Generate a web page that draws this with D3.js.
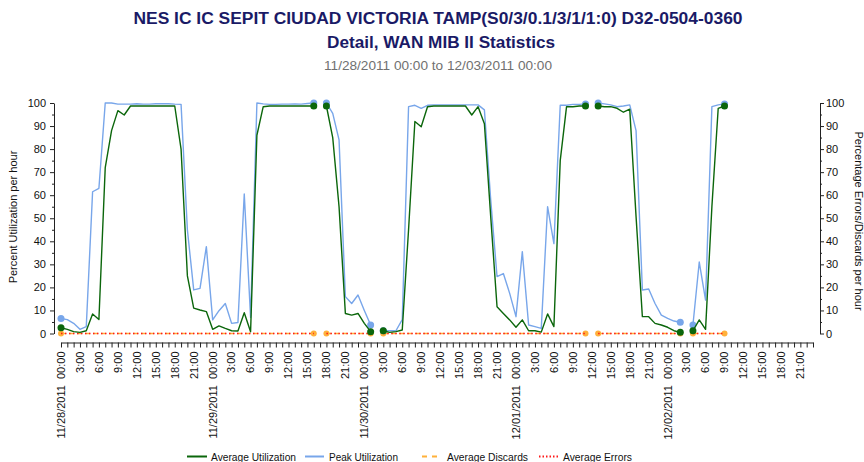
<!DOCTYPE html>
<html>
<head>
<meta charset="utf-8">
<script src="https://cdn.jsdelivr.net/npm/d3@7"></script>
<style>
  body { margin: 0; background: #fff; }
  svg { display: block; font-family: "Liberation Sans", Arial, sans-serif; }
</style>
</head>
<body>
<svg id="chart" width="864" height="462"></svg>
<script>
// ---------------- data (hourly, starting 11/28/2011 00:00) ----------------
const titleLines = ["NES IC IC SEPIT CIUDAD VICTORIA TAMP(S0/3/0.1/3/1/1:0) D32-0504-0360", "Detail, WAN MIB II Statistics"];
const subtitle = "11/28/2011 00:00  to  12/03/2011 00:00";
const dayLabels = ["11/28/2011", "11/29/2011", "11/30/2011", "12/01/2011", "12/02/2011"];
const hourLabels = ["00:00", "3:00", "6:00", "9:00", "12:00", "15:00", "18:00", "21:00"];
const yTicks = [0, 10, 20, 30, 40, 50, 60, 70, 80, 90, 100];
const seriesNames = ["Average Utilization", "Peak Utilization", "Average Discards", "Average Errors"];

const avgUtil = [
  2.5, 1.8, 0.8, 0.5, 1.2, 8.5, 6.1, 72, 88, 96.7, 94.8, 98.7,
  98.7, 98.7, 98.7, 98.7, 98.7, 98.7, 98.7, 80, 25, 11, 10.2, 9.5,
  1.8, 3.3, 2.2, 1.2, 1.1, 9, 0.8, 86, 98.4, 98.7, 98.7, 98.7,
  98.7, 98.7, 98.7, 98.7, 98.7, null, 98.7, 85, 55, 8.7, 8, 8.7,
  4.4, 0.8, null, 1.2, 0.5, 0.8, 1.5, 45, 92, 89.7, 98.4, 98.7,
  98.7, 98.7, 98.7, 98.7, 98.7, 94.8, 98.4, 91, 50.7, 11.6, 8.7, 5.9,
  2.7, 5.9, 1.2, 1.2, 0.6, 8.5, 3, 75, 98.4, 98.4, 98.7, 98.7,
  null, 98.7, 98.4, 98.4, 97.7, 96, 97.3, 50.7, 7.3, 7.3, 4.4, 3.7,
  2.7, 1.2, 0.5, null, 1.2, 5.9, 1.8, 55, 97.7, 98.7, null, null,
  null, null, null, null, null, null, null, null, null, null, null, null
];
const peakUtil = [
  6.5, 6, 4.4, 1.8, 3, 61.5, 63, 100, 100, 99.5, 99.5, 99.5,
  99.7, 99.5, 99.5, 99.7, 99.7, 99.7, 99.5, 99.4, 45, 18.9, 19.6, 37.7,
  5.9, 9.9, 13, 4.4, 4.8, 60.5, 7, 100, 99.6, 99.4, 99.4, 99.5,
  99.5, 99.6, 99.5, 99.8, 100, null, 100, 95.5, 84, 16, 13, 16.7,
  10, 3.7, null, 1.2, 1.2, 1.2, 6, 98.4, 99, 97.7, 99, 99.2,
  99.2, 99.2, 99.2, 99.2, 99.2, 99.2, 99.2, 97, 58, 24.7, 26, 17.4,
  7.3, 35.5, 3.7, 3, 2.2, 55, 39, 99, 99, 99.4, 99.4, 99.6,
  null, 100, 99.6, 99.2, 98.4, 98.7, 99.2, 88, 18.9, 19.3, 13, 8,
  6.6, 5.4, 4.9, null, 3.7, 31, 14.5, 98.4, 99.2, 99.6, null, null,
  null, null, null, null, null, null, null, null, null, null, null, null
];
const avgDiscards = [
  0, 0, 0, 0, 0, 0, 0, 0, 0, 0, 0, 0,
  0, 0, 0, 0, 0, 0, 0, 0, 0, 0, 0, 0,
  0, 0, 0, 0, 0, 0, 0, 0, 0, 0, 0, 0,
  0, 0, 0, 0, 0, null, 0, 0, 0, 0, 0, 0,
  0, 0, null, 0, 0, 0, 0, 0, 0, 0, 0, 0,
  0, 0, 0, 0, 0, 0, 0, 0, 0, 0, 0, 0,
  0, 0, 0, 0, 0, 0, 0, 0, 0, 0, 0, 0,
  null, 0, 0, 0, 0, 0, 0, 0, 0, 0, 0, 0,
  0, 0, 0, null, 0, 0, 0, 0, 0, 0, null, null,
  null, null, null, null, null, null, null, null, null, null, null, null
];
const avgErrors = [
  0, 0, 0, 0, 0, 0, 0, 0, 0, 0, 0, 0,
  0, 0, 0, 0, 0, 0, 0, 0, 0, 0, 0, 0,
  0, 0, 0, 0, 0, 0, 0, 0, 0, 0, 0, 0,
  0, 0, 0, 0, 0, null, 0, 0, 0, 0, 0, 0,
  0, 0, null, 0, 0, 0, 0, 0, 0, 0, 0, 0,
  0, 0, 0, 0, 0, 0, 0, 0, 0, 0, 0, 0,
  0, 0, 0, 0, 0, 0, 0, 0, 0, 0, 0, 0,
  null, 0, 0, 0, 0, 0, 0, 0, 0, 0, 0, 0,
  0, 0, 0, null, 0, 0, 0, 0, 0, 0, null, null,
  null, null, null, null, null, null, null, null, null, null, null, null
];

// ---------------- layout ----------------
const svg = d3.select("#chart");
const xLeft = 61, xRight = 813, yTop = 103, yBottom = 333.5;
const leftAxisX = 54, rightAxisX = 820, xAxisY = 342.5;

const hours = d3.range(avgUtil.length);
const x = d3.scaleLinear().domain([0, 119]).range([xLeft, xRight]);
const y = d3.scaleLinear().domain([0, 100]).range([yBottom, yTop]);
const y2 = d3.scaleLinear().domain([0, 100]).range([yBottom, yTop]);

// ---------------- titles ----------------
function fitText(sel, w) {
  sel.attr("textLength", w).attr("lengthAdjust", "spacingAndGlyphs");
}
svg.append("text").attr("x", 438).attr("y", 24).attr("text-anchor", "middle")
  .attr("font-size", 16).attr("font-weight", "bold").attr("fill", "#1a1a66")
  .text(titleLines[0]).call(fitText, 609);
svg.append("text").attr("x", 441).attr("y", 48).attr("text-anchor", "middle")
  .attr("font-size", 16).attr("font-weight", "bold").attr("fill", "#1a1a66")
  .text(titleLines[1]).call(fitText, 228);
svg.append("text").attr("x", 438).attr("y", 70).attr("text-anchor", "middle")
  .attr("font-size", 12).attr("fill", "#707070")
  .text(subtitle).call(fitText, 228);

// ---------------- axes ----------------
const axisColor = "#222";
function styleAxis(g) {
  g.selectAll("path, line").attr("stroke", axisColor);
  g.selectAll("text").attr("fill", "#111").attr("font-size", 11)
    .attr("font-family", "'Liberation Sans', Arial, sans-serif");
}
const minorTicks = d3.range(5, 100, 10);

// left
const gL = svg.append("g").attr("transform", `translate(${leftAxisX},0)`);
gL.call(d3.axisLeft(y).tickValues(yTicks).tickSize(4).tickSizeOuter(0).tickPadding(4));
gL.append("g").call(d3.axisLeft(y).tickValues(minorTicks).tickSize(2).tickSizeOuter(0).tickFormat(""))
  .select(".domain").remove();
gL.call(styleAxis);

// right
const gR = svg.append("g").attr("transform", `translate(${rightAxisX},0)`);
gR.call(d3.axisRight(y2).tickValues(yTicks).tickSize(4).tickSizeOuter(0).tickPadding(2));
gR.append("g").call(d3.axisRight(y2).tickValues(minorTicks).tickSize(2).tickSizeOuter(0).tickFormat(""))
  .select(".domain").remove();
gR.call(styleAxis);

// bottom
const gX = svg.append("g").attr("transform", `translate(0,${xAxisY})`);
gX.call(d3.axisBottom(x).tickValues(hours).tickSize(5).tickSizeOuter(0).tickFormat(""));
gX.call(styleAxis);
const labelHours = hours.filter(h => h % 3 === 0);
gX.selectAll("text.xl").data(labelHours).join("text")
  .attr("class", "xl")
  .attr("transform", h => `translate(${x(h)},9) rotate(-90)`)
  .attr("text-anchor", "end").attr("dy", "0.35em")
  .attr("font-size", 11).attr("fill", "#111")
  .attr("xml:space", "preserve")
  .text(h => {
    const lab = hourLabels[(h % 24) / 3];
    return h % 24 === 0 ? dayLabels[h / 24] + "  " + lab : lab;
  });

// axis titles
svg.append("text").attr("transform", "translate(17,217) rotate(-90)")
  .attr("text-anchor", "middle").attr("font-size", 11).attr("fill", "#111")
  .text("Percent  Utilization per hour");
svg.append("text").attr("transform", "translate(855,221) rotate(90)")
  .attr("text-anchor", "middle").attr("font-size", 11).attr("fill", "#111")
  .text("Percentage  Errors/Discards per hour");

// ---------------- series ----------------
const series = [
  { name: seriesNames[2], values: avgDiscards, color: "#ffb13b", width: 1.5, dash: "5,3", scale: y2, r: 3 },
  { name: seriesNames[3], values: avgErrors, color: "#ff1a1a", width: 1.5, dash: "1.5,2.5", scale: y2, r: 0 },
  { name: seriesNames[1], values: peakUtil, color: "#78a6ea", width: 1.4, dash: null, scale: y, r: 3.5 },
  { name: seriesNames[0], values: avgUtil, color: "#0b660b", width: 1.4, dash: null, scale: y, r: 3.5 }
];

series.forEach(s => {
  const line = d3.line()
    .defined(h => s.values[h] !== null)
    .x(h => x(h)).y(h => s.scale(s.values[h]));
  svg.append("path").datum(hours)
    .attr("d", line).attr("fill", "none")
    .attr("stroke", s.color).attr("stroke-width", s.width)
    .attr("stroke-dasharray", s.dash).attr("stroke-linejoin", "round");
  if (s.r > 0) {
    const ends = hours.filter(h => s.values[h] !== null &&
      (h === 0 || s.values[h - 1] === null || h === s.values.length - 1 || s.values[h + 1] === null));
    svg.append("g").selectAll("circle").data(ends).join("circle")
      .attr("cx", h => x(h)).attr("cy", h => s.scale(s.values[h]))
      .attr("r", s.r).attr("fill", s.color);
  }
});

// ---------------- legend ----------------
const legendItems = [
  { name: seriesNames[0], color: "#0b660b", dash: null, x1: 187, x2: 207, tx: 211, w: 85 },
  { name: seriesNames[1], color: "#78a6ea", dash: null, x1: 305, x2: 324, tx: 329, w: 69 },
  { name: seriesNames[2], color: "#ffb13b", dash: "5,5", x1: 422, x2: 437, tx: 447, w: 81 },
  { name: seriesNames[3], color: "#ff1a1a", dash: "1.5,2", x1: 539, x2: 558, tx: 563, w: 69 }
];
const lg = svg.append("g");
legendItems.forEach(d => {
  lg.append("line").attr("x1", d.x1).attr("x2", d.x2).attr("y1", 456.5).attr("y2", 456.5)
    .attr("stroke", d.color).attr("stroke-width", 2).attr("stroke-dasharray", d.dash);
  lg.append("text").attr("x", d.tx).attr("y", 460.5).attr("font-size", 11).attr("fill", "#111")
    .text(d.name).call(fitText, d.w);
});
</script>
</body>
</html>
